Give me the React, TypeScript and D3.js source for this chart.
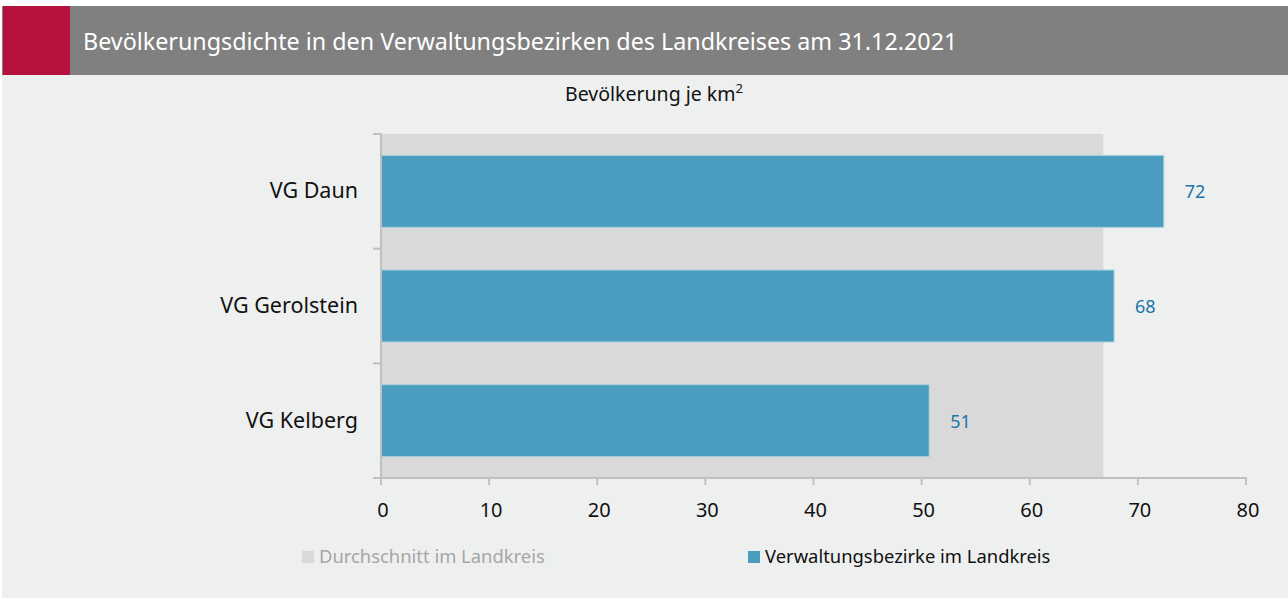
import React, { useEffect, useRef } from "react";
import * as d3 from "d3";

const categories = ["VG Daun", "VG Gerolstein", "VG Kelberg"];
const values = [72.4, 67.8, 50.7];
const valueLabels = ["72", "68", "51"];
const average = 66.8;
const xTicks = [0, 10, 20, 30, 40, 50, 60, 70, 80];
const legendLabels = ["Durchschnitt im Landkreis", "Verwaltungsbezirke im Landkreis"];

const title = "Bevölkerungsdichte in den Verwaltungsbezirken des Landkreises am 31.12.2021";

export default function App() {
  const svgRef = useRef<SVGSVGElement>(null);

  useEffect(() => {
    document.body.style.margin = "0";
    const width = 1288;
    const height = 599;
    const font = "'Noto Sans', sans-serif";
    const axisColor = "#c0c0c0";

    const svg = d3.select(svgRef.current).attr("width", width).attr("height", height);
    svg.selectAll("*").remove();

    // panel + header
    svg.append("rect").attr("x", 2).attr("y", 6).attr("width", width - 2).attr("height", 592).attr("fill", "#eef0ef");
    svg.append("rect").attr("x", 2).attr("y", 6).attr("width", width - 2).attr("height", 69).attr("fill", "#808080");
    svg.append("rect").attr("x", 3).attr("y", 6).attr("width", 67).attr("height", 69).attr("fill", "#b5123e");
    svg
      .append("text")
      .attr("x", 83)
      .attr("y", 50)
      .attr("fill", "#fff")
      .attr("font-family", font)
      .attr("font-size", "23.3px")
      .text(title);

    const sub = svg
      .append("text")
      .attr("x", 654)
      .attr("y", 101)
      .attr("text-anchor", "middle")
      .attr("font-family", font)
      .attr("font-size", "19.5px")
      .attr("fill", "#111");
    sub.append("tspan").text("Bevölkerung je km");
    sub.append("tspan").attr("dy", -8).attr("font-size", "13px").text("2");

    const x = d3.scaleLinear().domain([0, 80]).range([381, 1246]);
    const y = d3.scaleBand<string>().domain(categories).range([134, 478]).paddingInner(0.372).paddingOuter(0.186);

    // average background
    svg
      .append("rect")
      .attr("x", x(0))
      .attr("y", 134)
      .attr("width", x(average) - x(0))
      .attr("height", 478 - 134)
      .attr("fill", "#d9d9d9");

    svg
      .selectAll("rect.bar")
      .data(values)
      .enter()
      .append("rect")
      .attr("class", "bar")
      .attr("x", x(0))
      .attr("y", (d, i) => y(categories[i])!)
      .attr("width", (d) => x(d) - x(0))
      .attr("height", y.bandwidth())
      .attr("fill", "#4b9dc0")
      .attr("stroke", "#b0d2e1")
      .attr("stroke-width", 1);

    svg
      .selectAll("text.val")
      .data(values)
      .enter()
      .append("text")
      .attr("class", "val")
      .attr("x", (d) => x(d) + 21)
      .attr("y", (d, i) => y(categories[i])! + y.bandwidth() / 2 + 7)
      .attr("font-family", font)
      .attr("font-size", "18px")
      .attr("fill", "#1a75a8")
      .text((d, i) => valueLabels[i]);

    // axes
    const step = y.step();
    const yBounds = d3.range(categories.length + 1).map((i) => 134 + i * step);
    svg
      .selectAll("line.ytick")
      .data(yBounds)
      .enter()
      .append("line")
      .attr("x1", 373)
      .attr("x2", x(0))
      .attr("y1", (d) => d)
      .attr("y2", (d) => d)
      .attr("stroke", axisColor)
      .attr("stroke-width", 2);
    svg.append("line").attr("x1", x(0)).attr("x2", x(0)).attr("y1", 133).attr("y2", 479).attr("stroke", axisColor).attr("stroke-width", 2);
    svg.append("line").attr("x1", 373).attr("x2", x(80) + 1).attr("y1", 478).attr("y2", 478).attr("stroke", axisColor).attr("stroke-width", 2);
    svg
      .selectAll("line.xtick")
      .data(xTicks)
      .enter()
      .append("line")
      .attr("x1", (d) => x(d))
      .attr("x2", (d) => x(d))
      .attr("y1", 478)
      .attr("y2", 485)
      .attr("stroke", axisColor)
      .attr("stroke-width", 2);
    svg
      .selectAll("text.xlab")
      .data(xTicks)
      .enter()
      .append("text")
      .attr("x", (d) => x(d) + 2)
      .attr("y", 517)
      .attr("text-anchor", "middle")
      .attr("font-family", font)
      .attr("font-size", "20px")
      .attr("fill", "#111")
      .text((d) => d);

    svg
      .selectAll("text.cat")
      .data(categories)
      .enter()
      .append("text")
      .attr("x", 358)
      .attr("y", (d) => y(d)! + y.bandwidth() / 2 + 7)
      .attr("text-anchor", "end")
      .attr("font-family", font)
      .attr("font-size", "21.5px")
      .attr("fill", "#111")
      .text((d) => d);

    // legend
    const legend = [
      { x: 302, color: "#d9d9d9", text: "#a6a6a6" },
      { x: 748, color: "#4b9dc0", text: "#111" },
    ];
    legend.forEach((l, i) => {
      svg.append("rect").attr("x", l.x).attr("y", 551).attr("width", 12).attr("height", 12).attr("fill", l.color);
      svg
        .append("text")
        .attr("x", l.x + 17)
        .attr("y", 563)
        .attr("font-family", font)
        .attr("font-size", "18.4px")
        .attr("fill", l.text)
        .text(legendLabels[i]);
    });
  }, []);

  return <svg ref={svgRef} style={{ display: "block" }}></svg>;
}
